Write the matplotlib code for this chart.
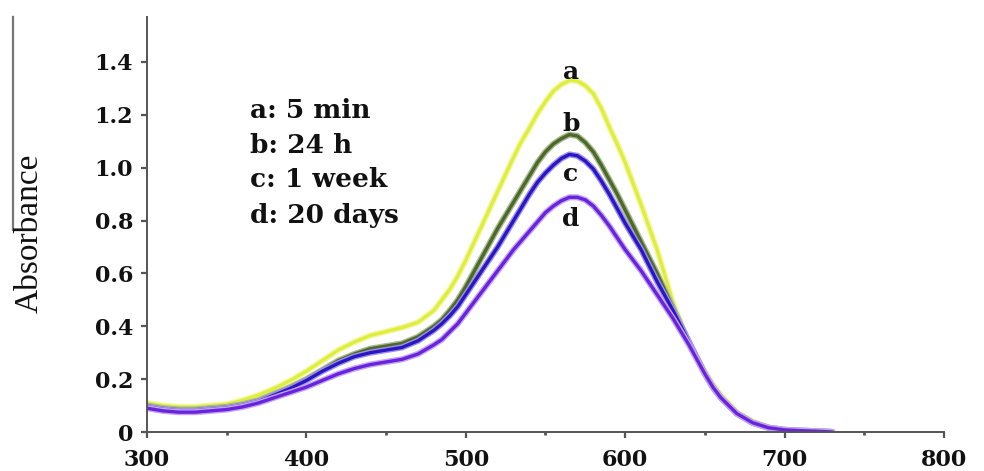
import matplotlib
matplotlib.use("Agg")
import matplotlib.pyplot as plt
from matplotlib.lines import Line2D
from matplotlib.ticker import MultipleLocator

# UV-vis spectra of the same sample measured after different ageing times
# (finer sampling across the main band)
wavelength = (list(range(300, 480, 10)) + list(range(480, 665, 5))
              + list(range(670, 740, 10)))

abs_a = [0.11, 0.10, 0.095, 0.095, 0.10, 0.105, 0.12, 0.14, 0.165, 0.195,
         0.23, 0.27, 0.31, 0.34, 0.365, 0.38, 0.395, 0.415,
         0.46, 0.50, 0.54, 0.59, 0.65, 0.715, 0.78, 0.845, 0.91, 0.975,
         1.04, 1.10, 1.15, 1.205, 1.25, 1.29, 1.315, 1.33, 1.328, 1.31,
         1.28, 1.225, 1.155, 1.09, 1.02, 0.94, 0.86, 0.775, 0.69, 0.59,
         0.49, 0.41, 0.34, 0.28, 0.23, 0.18, 0.14,
         0.075, 0.04, 0.018, 0.008, 0.005, 0.003, 0.0]
abs_b = [0.10, 0.09, 0.085, 0.085, 0.09, 0.095, 0.105, 0.12, 0.145, 0.17,
         0.20, 0.235, 0.27, 0.295, 0.315, 0.325, 0.335, 0.36,
         0.40, 0.425, 0.46, 0.50, 0.55, 0.605, 0.66, 0.715, 0.77, 0.82,
         0.87, 0.92, 0.97, 1.02, 1.06, 1.09, 1.11, 1.125, 1.12, 1.095,
         1.06, 1.01, 0.955, 0.90, 0.84, 0.78, 0.72, 0.66, 0.60, 0.535,
         0.47, 0.405, 0.34, 0.28, 0.22, 0.17, 0.13,
         0.07, 0.035, 0.016, 0.008, 0.005, 0.003, 0.0]
abs_c = [0.095, 0.085, 0.08, 0.08, 0.085, 0.09, 0.10, 0.115, 0.14, 0.165,
         0.195, 0.23, 0.26, 0.285, 0.30, 0.31, 0.32, 0.345,
         0.385, 0.41, 0.44, 0.475, 0.52, 0.565, 0.61, 0.655, 0.70, 0.75,
         0.80, 0.85, 0.90, 0.945, 0.98, 1.01, 1.035, 1.05, 1.045, 1.025,
         0.995, 0.95, 0.90, 0.845, 0.79, 0.74, 0.69, 0.63, 0.57, 0.515,
         0.46, 0.40, 0.34, 0.28, 0.22, 0.17, 0.13,
         0.07, 0.035, 0.016, 0.008, 0.005, 0.003, 0.0]
abs_d = [0.09, 0.08, 0.075, 0.075, 0.08, 0.085, 0.095, 0.11, 0.13, 0.15,
         0.17, 0.195, 0.22, 0.24, 0.255, 0.265, 0.275, 0.295,
         0.33, 0.35, 0.38, 0.41, 0.45, 0.49, 0.53, 0.57, 0.61, 0.65,
         0.69, 0.725, 0.76, 0.795, 0.83, 0.855, 0.875, 0.888, 0.888, 0.878,
         0.855, 0.82, 0.78, 0.735, 0.69, 0.65, 0.61, 0.565, 0.52, 0.475,
         0.43, 0.38, 0.33, 0.275, 0.22, 0.17, 0.13,
         0.07, 0.035, 0.016, 0.008, 0.005, 0.003, 0.0]

curve_tags = ["a", "b", "c", "d"]
legend_lines = ["a: 5 min", "b: 24 h", "c: 1 week", "d: 20 days"]
peak_nm = 566
tag_y = [1.336, 1.14, 0.951, 0.781]
legend_y = [1.189, 1.057, 0.925, 0.792]
colors = ["#dfee3c", "#4b6a2a", "#2a16c4", "#6a22dc"]
halo = ["#f3f8a6", "#a9b98f", "#9d92e8", "#c3a6f2"]

fig = plt.figure(figsize=(9.84, 4.71), dpi=100)
ax = fig.add_axes([0.1494, 0.0828, 0.8099, 0.8811])

for ys, c, h in zip([abs_a, abs_b, abs_c, abs_d], colors, halo):
    ax.plot(wavelength, ys, color=h, linewidth=4.4, solid_capstyle="round",
            solid_joinstyle="round")
    ax.plot(wavelength, ys, color=c, linewidth=2.4, solid_capstyle="round",
            solid_joinstyle="round")

for t, y in zip(curve_tags, tag_y):
    ax.text(peak_nm, y, t, ha="center", va="baseline", fontsize=18,
            family="DejaVu Serif", fontweight="bold", color="#111111")

for t, y in zip(legend_lines, legend_y):
    ax.text(364.5, y, t, ha="left", va="baseline", fontsize=19,
            family="DejaVu Serif", fontweight="bold", color="#111111")

ax.set_xlim(300, 800)
ax.set_ylim(0, 1.57)
ax.xaxis.set_major_locator(MultipleLocator(100))
ax.xaxis.set_minor_locator(MultipleLocator(50))
ax.set_yticks([0, 0.2, 0.4, 0.6, 0.8, 1.0, 1.2, 1.4])
ax.set_yticklabels(["0", "0.2", "0.4", "0.6", "0.8", "1.0", "1.2", "1.4"])

for side in ["top", "right"]:
    ax.spines[side].set_visible(False)
for side in ["left", "bottom"]:
    ax.spines[side].set_color("#555555")
    ax.spines[side].set_linewidth(1.4)

ax.tick_params(axis="both", which="major", direction="out", length=4,
               width=1.6, color="#555555")
ax.tick_params(axis="x", which="minor", direction="out", length=2,
               width=2, color="#555555")
ax.tick_params(axis="y", pad=6)
ax.tick_params(axis="x", pad=8)
for lab in ax.get_xticklabels() + ax.get_yticklabels():
    lab.set_family("DejaVu Serif")
    lab.set_fontweight("bold")
    lab.set_fontsize(16)
    lab.set_color("#111111")

fig.text(0.030, 0.505, "Absorbance", rotation=90, ha="center", va="center",
         fontsize=24, family="Liberation Serif", color="#111111")

# thin rule left of the axis title
fig.add_artist(Line2D([0.0135, 0.0135], [0.964, 0.512], color="#777777",
                      linewidth=1.6))

fig.savefig("out.png", dpi=100, facecolor="white")
